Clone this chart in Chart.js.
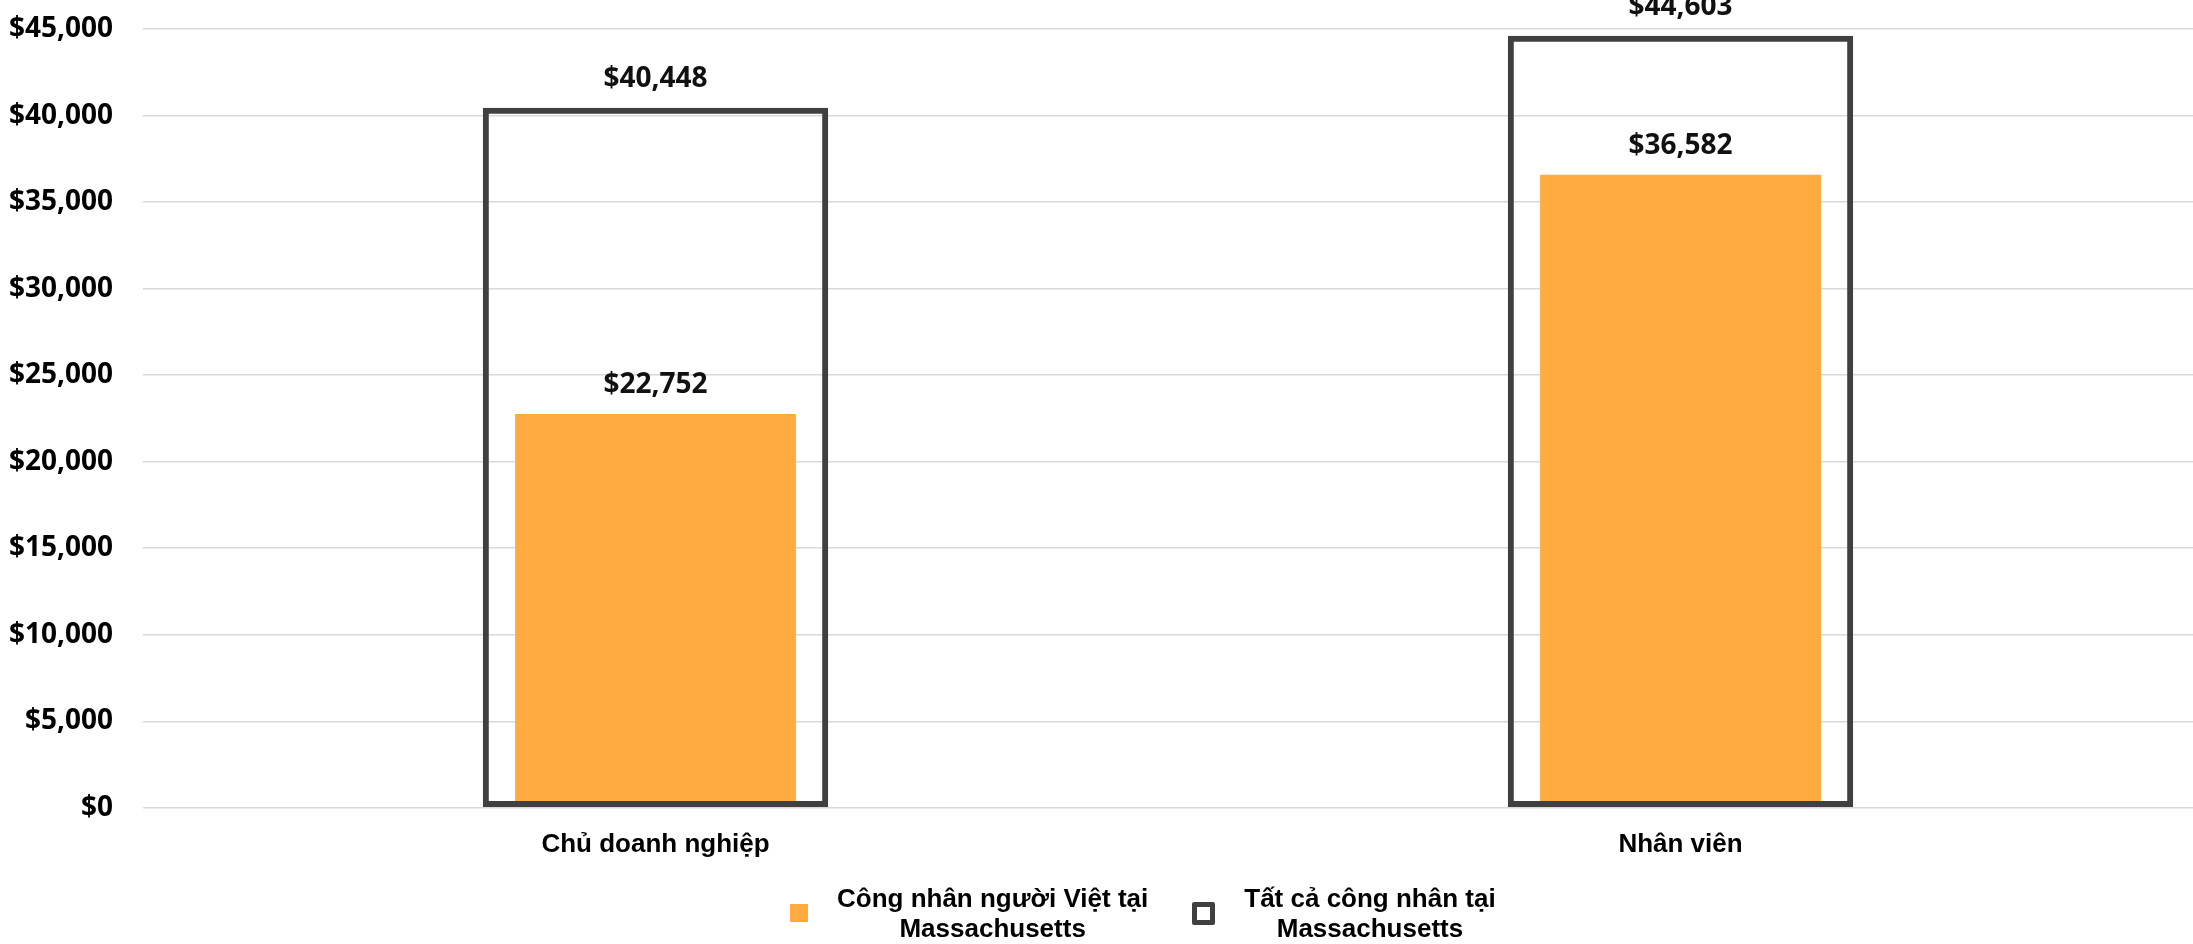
<!DOCTYPE html>
<html>
<head>
<meta charset="utf-8">
<script src="https://cdn.jsdelivr.net/npm/chart.js@4.4.1/dist/chart.umd.min.js"></script>
<style>
  html, body { margin: 0; padding: 0; background: #fff; }
  #wrap { position: relative; width: 2193px; height: 944px; }
  #legend {
    position: absolute; left: 790px; top: 883px;
    display: flex; align-items: center;
    font-family: "Liberation Sans", Arial, sans-serif; font-weight: bold;
    font-size: 26px; line-height: 30px; color: #000;
  }
  .item { display: flex; align-items: center; margin-right: 44px; }
  .box { margin-right: 29px; box-sizing: border-box; }
  .txt { text-align: center; white-space: nowrap; }
</style>
</head>
<body>
<div id="wrap">
  <canvas id="chart1"></canvas>
  <div id="legend"></div>
</div>
<script>
const categories = ['Chủ doanh nghiệp', 'Nhân viên'];
const vietWorkers = [22752, 36582];
const allWorkers = [40448, 44603];
const seriesNames = [
  ['Công nhân người Việt tại', 'Massachusetts'],
  ['Tất cả công nhân tại', 'Massachusetts']
];
const yTicks = [0, 5000, 10000, 15000, 20000, 25000, 30000, 35000, 40000, 45000];

const money = v => '$' + Number(v).toLocaleString('en-US');

// value labels above each bar
const barLabels = {
  id: 'barLabels',
  afterDatasetsDraw(chart) {
    const ctx = chart.ctx;
    ctx.save();
    ctx.font = 'bold 28px "Noto Sans"';
    ctx.fillStyle = '#111';
    ctx.textAlign = 'center';
    ctx.textBaseline = 'alphabetic';
    chart.data.datasets.forEach((ds, i) => {
      chart.getDatasetMeta(i).data.forEach((bar, j) => {
        ctx.fillText(money(ds.data[j]), bar.x, bar.y - 21);
      });
    });
    ctx.restore();
  }
};

const chart = new Chart(document.getElementById('chart1'), {
  type: 'bar',
  data: {
    labels: categories,
    datasets: [
      {
        label: seriesNames[0].join(' '),
        data: vietWorkers,
        backgroundColor: '#FFAB40',
        borderWidth: 0,
        grouped: false,
        barPercentage: 0.274,
        categoryPercentage: 1,
        order: 2
      },
      {
        label: seriesNames[1].join(' '),
        data: allWorkers,
        backgroundColor: 'rgba(0,0,0,0)',
        borderColor: '#404040',
        borderWidth: 6,
        borderSkipped: false,
        grouped: false,
        barPercentage: 0.337,
        categoryPercentage: 1,
        order: 1
      }
    ]
  },
  options: {
    responsive: true,
    maintainAspectRatio: false,
    animation: false,
    layout: { padding: { left: 10, top: 29, right: 0, bottom: 63 } },
    plugins: {
      legend: { display: false },
      tooltip: { enabled: false }
    },
    scales: {
      y: {
        min: 0,
        max: 45000,
        afterBuildTicks: s => { s.ticks = yTicks.map(v => ({ value: v })); },
        afterFit: s => {
          s.width = 133;
          s.paddingTop = 0;
          s.paddingBottom = 0;
        },
        grid: { color: '#d9d9d9', lineWidth: 1.5, drawTicks: false },
        border: { display: false },
        ticks: {
          padding: 30,
          color: '#000',
          font: { family: 'Noto Sans', weight: 'bold', size: 28 },
          callback: v => money(v)
        }
      },
      x: {
        grid: { display: false, drawTicks: false },
        border: { display: false },
        ticks: {
          padding: 21,
          color: '#000',
          font: { family: 'Liberation Sans', weight: 'bold', size: 26 }
        }
      }
    }
  },
  plugins: [barLabels]
});

// legend built from the datasets
const legend = document.getElementById('legend');
chart.data.datasets.forEach((ds, i) => {
  const item = document.createElement('div');
  item.className = 'item';
  const box = document.createElement('div');
  box.className = 'box';
  if (i === 0) {
    box.style.cssText = 'width:18px;height:18px;background:' + ds.backgroundColor;
  } else {
    box.style.cssText = 'width:23px;height:23px;border:5px solid ' + ds.borderColor + ';border-radius:2px;background:#fff';
  }
  const txt = document.createElement('div');
  txt.className = 'txt';
  txt.innerHTML = seriesNames[i].join('<br>');
  item.appendChild(box);
  item.appendChild(txt);
  legend.appendChild(item);
});
</script>
</body>
</html>
